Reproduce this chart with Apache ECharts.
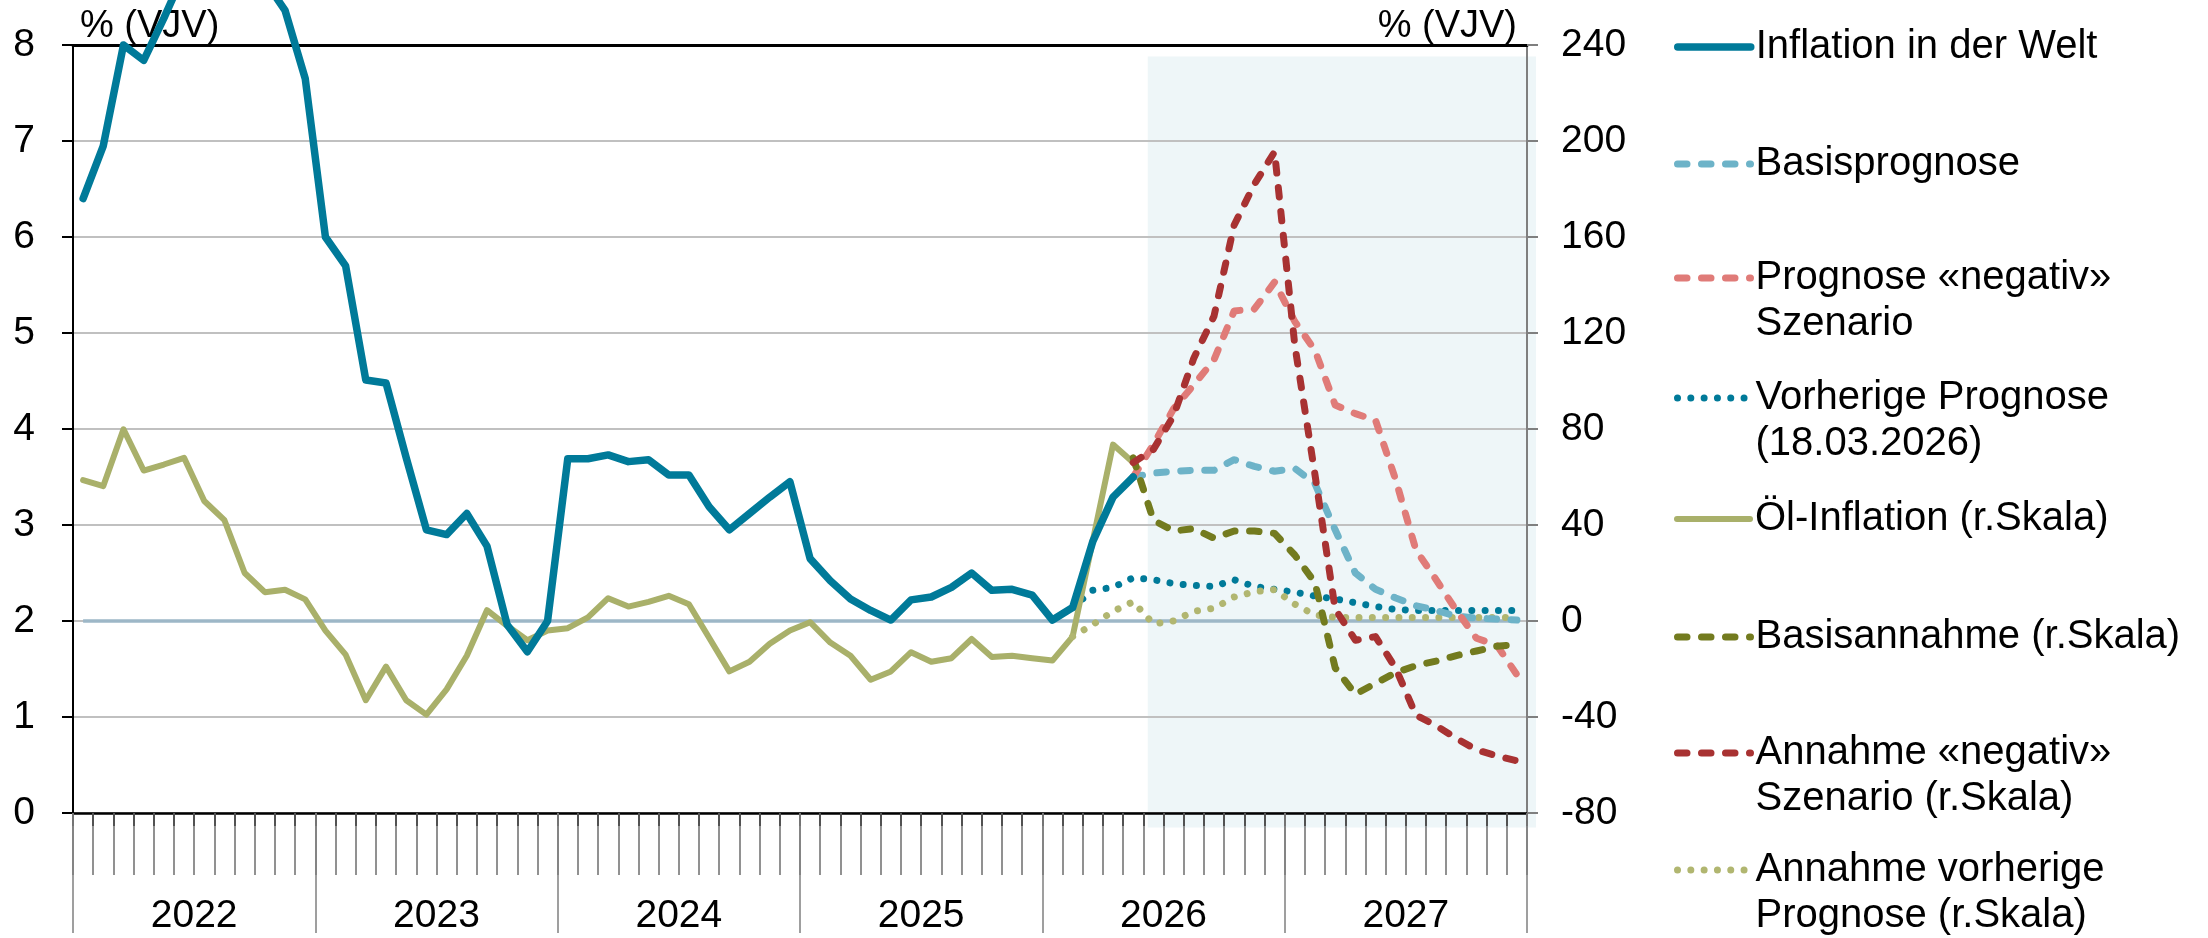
<!DOCTYPE html>
<html>
<head>
<meta charset="utf-8">
<script src="https://cdn.jsdelivr.net/npm/echarts@6/dist/echarts.min.js"></script>
<style>
html,body{margin:0;padding:0;background:#fff;}
#chart{width:2208px;height:938px;}
</style>
</head>
<body>
<div id="chart"></div>
<script>
// ---- categories ----
const years = ['2022', '2023', '2024', '2025', '2026', '2027'];
const monthNums = ['01','02','03','04','05','06','07','08','09','10','11','12'];
const months = years.flatMap(y => monthNums.map(m => y + '-' + m));

// ---- tick labels ----
const leftTicks = { min: 0, max: 8, interval: 1 };
const rightTicks = { min: -80, max: 240, interval: 40 };
const targetLevel = 2;

// ---- series values (left scale, % VJV) ----
const inflation = [
  6.40, 6.95, 8.00, 7.84, 8.28, 8.75, 9.10, 9.30, 9.25, 8.67, 8.36, 7.65,
  6.00, 5.70, 4.51, 4.48, 3.70, 2.95, 2.90, 3.12, 2.78, 1.96, 1.68, 2.00,
  3.69, 3.69, 3.73, 3.66, 3.68, 3.52, 3.52, 3.19, 2.95, 3.12, 3.29, 3.45,
  2.65, 2.42, 2.23, 2.11, 2.01, 2.22, 2.25, 2.35, 2.50, 2.32, 2.33, 2.27,
  2.01, 2.14, 2.83, 3.29, 3.50, null, null, null, null, null, null, null,
  null, null, null, null, null, null, null, null, null, null, null, null
];
const basisprognose = [
  null, null, null, null, null, null, null, null, null, null, null, null,
  null, null, null, null, null, null, null, null, null, null, null, null,
  null, null, null, null, null, null, null, null, null, null, null, null,
  null, null, null, null, null, null, null, null, null, null, null, null,
  null, null, null, null, 3.50, 3.54, 3.56, 3.57, 3.57, 3.68, 3.61, 3.56,
  3.59, 3.43, 2.95, 2.50, 2.33, 2.24, 2.16, 2.11, 2.05, 2.03, 2.02, 2.01
];
const prognoseNegativ = [
  null, null, null, null, null, null, null, null, null, null, null, null,
  null, null, null, null, null, null, null, null, null, null, null, null,
  null, null, null, null, null, null, null, null, null, null, null, null,
  null, null, null, null, null, null, null, null, null, null, null, null,
  null, null, null, null, 3.50, 3.84, 4.21, 4.46, 4.72, 5.23, 5.25, 5.53,
  5.12, 4.82, 4.25, 4.16, 4.09, 3.47, 2.74, 2.43, 2.11, 1.82, 1.75, 1.44
];
const vorherigePrognose = [
  null, null, null, null, null, null, null, null, null, null, null, null,
  null, null, null, null, null, null, null, null, null, null, null, null,
  null, null, null, null, null, null, null, null, null, null, null, null,
  null, null, null, null, null, null, null, null, null, null, null, null,
  null, 2.14, 2.32, 2.35, 2.45, 2.43, 2.39, 2.37, 2.36, 2.43, 2.36, 2.33,
  2.30, 2.26, 2.23, 2.19, 2.15, 2.12, 2.11, 2.11, 2.11, 2.11, 2.11, 2.11
];

// ---- series values (right scale, % VJV) ----
const oelInflation = [
  58.7, 56.2, 79.9, 62.7, 65.2, 68.0, 50.0, 42.0, 20.0, 12.0, 13.0, 9.0,
  -4.0, -14.0, -33.0, -19.0, -33.0, -39.0, -28.5, -14.5, 4.5, -2.0, -8.0, -4.0,
  -3.0, 1.5, 9.5, 6.0, 8.0, 10.5, 7.0, -7.0, -21.0, -17.0, -9.5, -4.0,
  -0.5, -9.0, -14.5, -24.5, -21.0, -13.0, -17.0, -15.5, -7.5, -15.0, -14.5, -15.5,
  -16.5, -6.5, 33.5, 73.5, 66.0, null, null, null, null, null, null, null,
  null, null, null, null, null, null, null, null, null, null, null, null
];
const basisannahme = [
  null, null, null, null, null, null, null, null, null, null, null, null,
  null, null, null, null, null, null, null, null, null, null, null, null,
  null, null, null, null, null, null, null, null, null, null, null, null,
  null, null, null, null, null, null, null, null, null, null, null, null,
  null, null, null, null, 68.0, 42.0, 37.5, 38.5, 34.5, 37.5, 37.5, 36.5,
  27.5, 16.0, -19.5, -30.5, -26.0, -21.5, -18.6, -16.7, -14.4, -12.5, -10.5, -9.8
];
const annahmeNegativ = [
  null, null, null, null, null, null, null, null, null, null, null, null,
  null, null, null, null, null, null, null, null, null, null, null, null,
  null, null, null, null, null, null, null, null, null, null, null, null,
  null, null, null, null, null, null, null, null, null, null, null, null,
  null, null, null, null, 66.0, 71.5, 85.5, 109.5, 127.0, 165.0, 182.0, 195.5,
  115.0, 61.0, 5.0, -8.0, -6.5, -19.7, -39.2, -43.6, -48.9, -53.7, -56.2, -58.3
];
const annahmeVorherige = [
  null, null, null, null, null, null, null, null, null, null, null, null,
  null, null, null, null, null, null, null, null, null, null, null, null,
  null, null, null, null, null, null, null, null, null, null, null, null,
  null, null, null, null, null, null, null, null, null, null, null, null,
  null, -6.5, -1.5, 4.0, 8.0, -1.2, 0.0, 4.0, 5.3, 10.0, 12.2, 13.1,
  7.0, 2.5, 1.5, 1.5, 1.5, 1.5, 1.5, 1.5, 1.5, 1.5, 1.5, 1.5
];

const names = [
  'Inflation in der Welt',
  'Basisprognose',
  'Prognose «negativ»\nSzenario',
  'Vorherige Prognose\n(18.03.2026)',
  'Öl-Inflation (r.Skala)',
  'Basisannahme (r.Skala)',
  'Annahme «negativ»\nSzenario (r.Skala)',
  'Annahme vorherige\nPrognose (r.Skala)'
];

const FONT = 'Liberation Sans, Arial, Helvetica, sans-serif';
const DASH = [9.5, 14.5];
const DOT = [0.01, 13.3];

const chart = echarts.init(document.getElementById('chart'), null, { renderer: 'canvas' });

const legendRows = [44, 161, 278, 398, 516, 634, 753, 870];
const legends = names.map((n, i) => {
  const twoLine = n.indexOf('\n') >= 0;
  return {
    orient: 'vertical',
    left: 1674,
    top: legendRows[i] - (twoLine ? 69 : 20),
    padding: 0,
    itemWidth: 73,
    itemHeight: 14,
    selectedMode: false,
    data: [n],
    formatter: twoLine ? (name => '\n' + name) : (name => name),
    itemStyle: { opacity: 0, borderWidth: 0 },
    lineStyle: { width: 'inherit', type: 'inherit', cap: 'inherit' },
    textStyle: { fontFamily: FONT, fontSize: 40, color: '#000', lineHeight: 46 }
  };
});

function lineSeries(name, data, color, width, type, yIdx, z, extra) {
  return Object.assign({
    name: name,
    type: 'line',
    data: data,
    xAxisIndex: 0,
    yAxisIndex: yIdx,
    symbol: 'none',
    showSymbol: false,
    connectNulls: false,
    z: z,
    lineStyle: { color: color, width: width, type: type, cap: 'round', join: 'round' },
    itemStyle: { color: color },
    emphasis: { disabled: true }
  }, extra || {});
}

const titleStyle = { fontFamily: FONT, fontSize: 38, fontWeight: 'normal', color: '#000' };

const option = {
  animation: false,
  backgroundColor: '#ffffff',
  textStyle: { fontFamily: FONT },
  title: [
    { text: '% (VJV)', left: 80, top: 8, padding: 0, textStyle: titleStyle },
    { text: '% (VJV)', right: 691, top: 8, padding: 0, textStyle: titleStyle }
  ],
  legend: legends,
  grid: { left: 73, right: 681, top: 45, bottom: 125, containLabel: false },
  xAxis: [
    { type: 'category', data: months, position: 'bottom', boundaryGap: true,
      axisLine: { show: true, onZero: false, lineStyle: { color: '#000', width: 2.5 } },
      axisTick: { show: true, interval: 0, length: 13, lineStyle: { color: '#000', width: 2 } },
      axisLabel: { show: false }, splitLine: { show: false } },
    { type: 'category', data: months, position: 'bottom', boundaryGap: true,
      axisLine: { show: false, onZero: false },
      axisTick: { show: true, interval: 0, length: 62, lineStyle: { color: '#6e6e6e', width: 1.5 } },
      axisLabel: { show: false }, splitLine: { show: false } },
    { type: 'category', data: years, position: 'bottom', boundaryGap: true,
      axisLine: { show: false, onZero: false },
      axisTick: { show: true, interval: 0, length: 120, lineStyle: { color: '#808080', width: 1.5 } },
      axisLabel: { show: true, interval: 0, margin: 84, fontFamily: FONT, fontSize: 39, color: '#000' },
      splitLine: { show: false } },
    { type: 'category', data: months, position: 'top', boundaryGap: true,
      axisLine: { show: true, onZero: false, lineStyle: { color: '#000', width: 3 } },
      axisTick: { show: false }, axisLabel: { show: false }, splitLine: { show: false } }
  ],
  yAxis: [
    { type: 'value', position: 'left', min: leftTicks.min, max: leftTicks.max, interval: leftTicks.interval,
      axisLine: { show: true, lineStyle: { color: '#000', width: 2 } },
      axisTick: { show: true, length: 11, lineStyle: { color: '#000', width: 2 } },
      axisLabel: { margin: 38, fontFamily: FONT, fontSize: 39, color: '#000' },
      splitLine: { show: true, lineStyle: { color: '#c0c0c0', width: 2 } } },
    { type: 'value', position: 'right', min: rightTicks.min, max: rightTicks.max, interval: rightTicks.interval,
      axisLine: { show: true, lineStyle: { color: '#7f7f7f', width: 2 } },
      axisTick: { show: true, length: 11, lineStyle: { color: '#7f7f7f', width: 2 } },
      axisLabel: { margin: 34, fontFamily: FONT, fontSize: 39, color: '#000' },
      splitLine: { show: false } }
  ],
  series: [
    lineSeries(names[0], inflation, '#007a99', 7.5, 'solid', 0, 14, { clip: false }),
    lineSeries(names[1], basisprognose, '#6db3c8', 7, DASH, 0, 12),
    lineSeries(names[2], prognoseNegativ, '#e07b78', 7, DASH, 0, 13),
    lineSeries(names[3], vorherigePrognose, '#007a99', 7, DOT, 0, 10, {
      markLine: {
        silent: true, symbol: 'none', z: 1,
        label: { show: false },
        lineStyle: { color: '#9db7c7', width: 3.5, type: 'solid' },
        data: [[{ coord: [months[0], targetLevel] }, { coord: [months[months.length - 1], targetLevel] }]]
      }
    }),
    lineSeries(names[4], oelInflation, '#a9b06a', 6, 'solid', 1, 11),
    lineSeries(names[5], basisannahme, '#737b1f', 7, DASH, 1, 15),
    lineSeries(names[6], annahmeNegativ, '#a83232', 7, DASH, 1, 16),
    lineSeries(names[7], annahmeVorherige, '#b1b670', 7, DOT, 1, 11)
  ]
};

chart.setOption(option);

// forecast shading, positioned through the chart's own scales
const px = i => chart.convertToPixel({ xAxisIndex: 0 }, months[i]);
const band = px(1) - px(0);
const x0 = px(53) - 0.28 * band;
const x1 = px(months.length - 1) + 0.5 * band + 9;
const y0 = chart.convertToPixel({ yAxisIndex: 0 }, 7.88);
const y1 = chart.convertToPixel({ yAxisIndex: 0 }, -0.15);
chart.setOption({
  graphic: [{
    type: 'rect', silent: true, z: -1,
    shape: { x: x0, y: y0, width: x1 - x0, height: y1 - y0 },
    style: { fill: '#eef6f8' }
  }]
});
</script>
</body>
</html>
